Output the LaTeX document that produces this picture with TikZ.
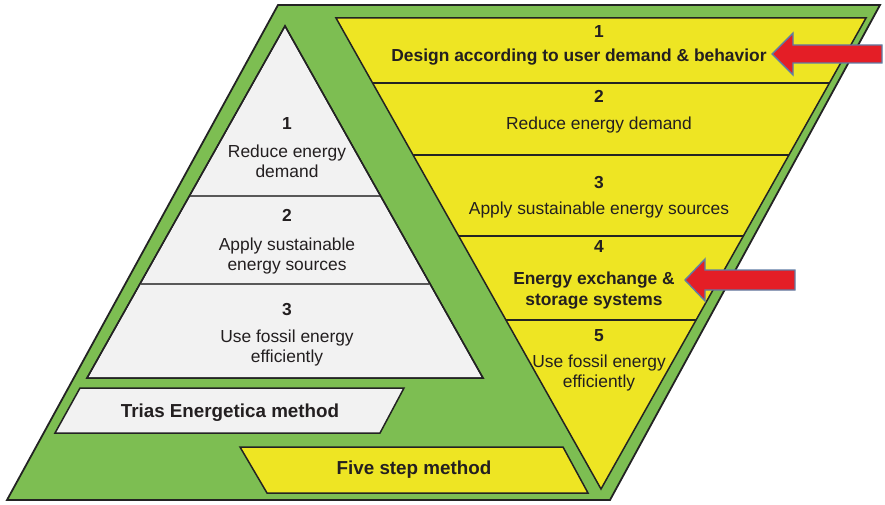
\documentclass[tikz,border=0pt]{standalone}
\usepackage{fontspec}
\setmainfont{Liberation Sans}
\definecolor{grn}{RGB}{125,190,82}
\definecolor{ylw}{RGB}{238,229,35}
\definecolor{wht}{RGB}{242,242,242}
\definecolor{edge}{RGB}{35,35,35}
\definecolor{txt}{RGB}{35,31,32}
\definecolor{arrred}{RGB}{228,30,38}
\definecolor{arrblue}{RGB}{95,125,165}
\begin{document}
\begin{tikzpicture}[x=1pt,y=-1pt,
  lbl/.style={font=\fontsize{17.4}{21}\selectfont, text=txt, inner sep=0pt, anchor=base},
  blbl/.style={lbl, font=\fontsize{17.4}{21}\selectfont\bfseries},
  tlbl/.style={lbl, font=\fontsize{18.8}{22}\selectfont\bfseries},
  outl/.style={draw=edge, line width=1.5pt, line join=miter},
  divline/.style={draw=edge, line width=1.3pt},
  wdiv/.style={draw=black!65, line width=1.8pt},
  bigarrow/.style={fill=arrred, draw=arrblue, line width=1.4pt, line join=miter}]
\useasboundingbox (0,0) rectangle (885,505);
% green parallelogram
\draw[outl, fill=grn, line width=1.8pt] (278,5) -- (880,5) -- (610,500) -- (7,500) -- cycle;
% white triangle (Trias Energetica)
\draw[outl, fill=wht] (285,26) -- (483,378) -- (87,378) -- cycle;
\draw[wdiv] (190,196) -- (380,196);
\draw[wdiv] (141,284) -- (429,284);
\draw[outl] (285,26) -- (483,378) -- (87,378) -- cycle;
% Trias label box
\draw[outl, fill=wht] (80,388) -- (404,388) -- (380,433) -- (55,433) -- cycle;
% yellow inverted triangle
\draw[outl, fill=ylw] (336,18) -- (866,18) -- (601,489) -- cycle;
\draw[divline] (373,83) -- (829,83);
\draw[divline] (413,155) -- (789,155);
\draw[divline] (459,236) -- (743,236);
\draw[divline] (506,320) -- (696,320);
% Five step label box
\draw[outl, fill=ylw] (240,447) -- (563,447) -- (588,493) -- (267,493) -- cycle;
% arrows
\draw[bigarrow] (772,54) -- (793,33) -- (793,45) -- (882,45) -- (882,63) -- (793,63) -- (793,75) -- cycle;
\draw[bigarrow] (685,280) -- (705,259) -- (705,270) -- (795,270) -- (795,290) -- (705,290) -- (705,301) -- cycle;
% white triangle texts
\node[blbl] (w1n) at (287,130) {1};
\node[lbl] (w1a) at (287,158) {Reduce energy};
\node[lbl] (w1b) at (287,178) {demand};
\node[blbl] (w2n) at (287,221) {2};
\node[lbl] (w2a) at (287,250) {Apply sustainable};
\node[lbl] (w2b) at (287,270) {energy sources};
\node[blbl] (w3n) at (287,315) {3};
\node[lbl] (w3a) at (287,342) {Use fossil energy};
\node[lbl] (w3b) at (287,362) {efficiently};
\node[tlbl] (trias) at (230,417) {Trias Energetica method};
% yellow triangle texts
\node[blbl] (y1n) at (599,38) {1};
\node[blbl] (y1a) at (579,62) {Design according to user demand \& behavior};
\node[blbl] (y2n) at (599,103) {2};
\node[lbl] (y2a) at (599,130) {Reduce energy demand};
\node[blbl] (y3n) at (599,188) {3};
\node[lbl] (y3a) at (599,214) {Apply sustainable energy sources};
\node[blbl] (y4n) at (599,252) {4};
\node[blbl] (y4a) at (594,284) {Energy exchange \&};
\node[blbl] (y4b) at (594,305) {storage systems};
\node[blbl] (y5n) at (599,341) {5};
\node[lbl] (y5a) at (599,367) {Use fossil energy};
\node[lbl] (y5b) at (599,387) {efficiently};
\node[tlbl] (five) at (414,474) {Five step method};
\end{tikzpicture}
\end{document}
